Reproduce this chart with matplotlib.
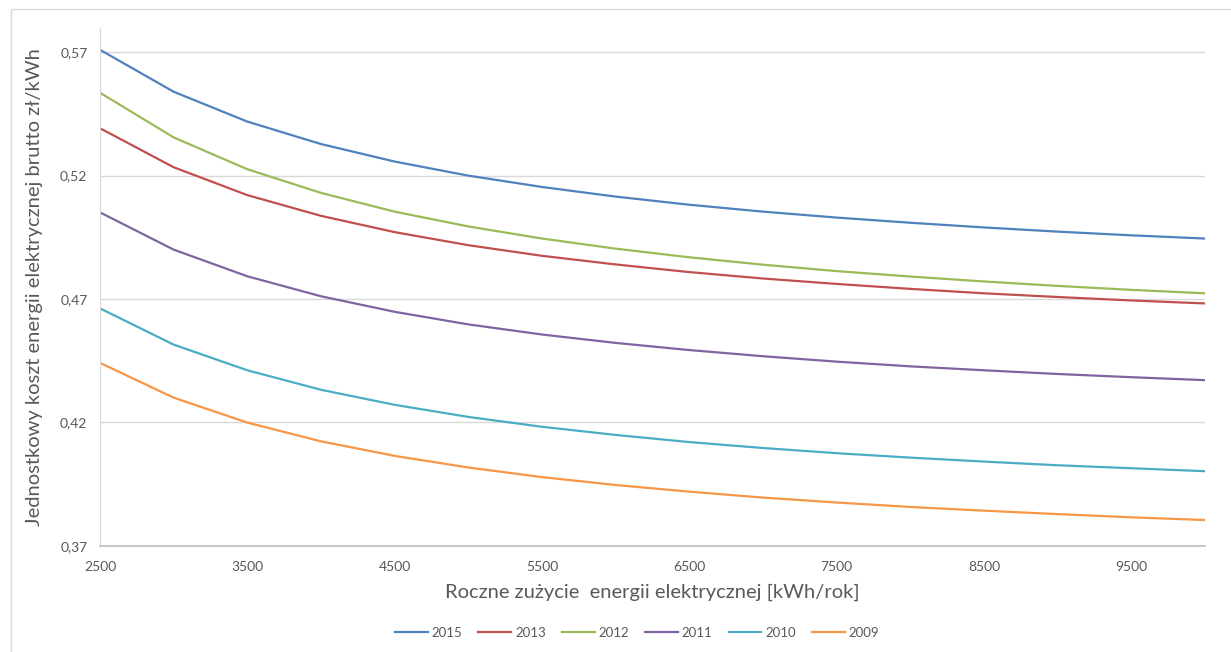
import matplotlib
matplotlib.use("Agg")
import matplotlib.pyplot as plt
from matplotlib.patches import Rectangle
from matplotlib.ticker import FuncFormatter

plt.rcParams['font.family'] = ['Lato', 'DejaVu Sans']

# roczne zużycie [kWh/rok]
zuzycie = [2500, 3000, 3500, 4000, 4500, 5000, 5500, 6000,
           6500, 7000, 7500, 8000, 8500, 9000, 9500, 10000]

# koszt jednostkowy brutto [zł/kWh]
k2015 = [0.5710, 0.5540, 0.5419, 0.5328, 0.5257, 0.5200, 0.5154, 0.5115,
         0.5082, 0.5054, 0.5030, 0.5009, 0.4990, 0.4973, 0.4958, 0.4945]
k2013 = [0.5392, 0.5234, 0.5121, 0.5037, 0.4971, 0.4918, 0.4875, 0.4840,
         0.4809, 0.4783, 0.4761, 0.4741, 0.4723, 0.4708, 0.4694, 0.4682]
k2012 = [0.5536, 0.5355, 0.5226, 0.5130, 0.5054, 0.4994, 0.4945, 0.4904,
         0.4869, 0.4839, 0.4813, 0.4791, 0.4771, 0.4753, 0.4737, 0.4723]
k2011 = [0.5051, 0.4900, 0.4792, 0.4711, 0.4648, 0.4597, 0.4556, 0.4522,
         0.4493, 0.4468, 0.4446, 0.4427, 0.4411, 0.4396, 0.4383, 0.4371]
k2010 = [0.4662, 0.4515, 0.4411, 0.4332, 0.4271, 0.4222, 0.4182, 0.4149,
         0.4120, 0.4096, 0.4075, 0.4057, 0.4041, 0.4026, 0.4014, 0.4002]
k2009 = [0.4441, 0.4300, 0.4199, 0.4123, 0.4064, 0.4017, 0.3978, 0.3946,
         0.3919, 0.3895, 0.3875, 0.3857, 0.3842, 0.3828, 0.3815, 0.3804]

lata = ['2015', '2013', '2012', '2011', '2010', '2009']
serie = [k2015, k2013, k2012, k2011, k2010, k2009]
kolory = ['#4F81BD', '#C0504D', '#9BBB59', '#8064A2', '#4BACC6', '#F79646']

x_ticks = [2500, 3500, 4500, 5500, 6500, 7500, 8500, 9500]
y_ticks = [0.37, 0.42, 0.47, 0.52, 0.57]

fig = plt.figure(figsize=(12.31, 6.52), dpi=100)
ax = fig.add_axes([100 / 1231, 1 - 545.7 / 652, 1105 / 1231, (545.7 - 27.6) / 652])

# ramka całego wykresu
fig.patches.append(Rectangle((11 / 1231, -0.1), 1.2, 1 - 9 / 652 + 0.1,
                             transform=fig.transFigure, fill=False,
                             edgecolor='#D9D9D9', linewidth=1))

for rok, y, c in zip(lata, serie, kolory):
    ax.plot(zuzycie, y, color=c, linewidth=1.6, label=rok)

ax.set_xlim(2500, 10000)
ax.set_ylim(0.37, 0.58)
ax.set_xticks(x_ticks)
ax.set_yticks(y_ticks)
ax.yaxis.set_major_formatter(FuncFormatter(lambda v, p: f"{v:.2f}".replace('.', ',')))
ax.grid(axis='y', color='#D9D9D9', linewidth=1)
ax.set_axisbelow(True)

for s in ['top', 'right']:
    ax.spines[s].set_visible(False)
ax.spines['left'].set_color('#D9D9D9')
ax.spines['bottom'].set_color('#BFBFBF')
ax.spines['bottom'].set_linewidth(1.2)
ax.tick_params(length=0, labelsize=10, labelcolor='#595959')
ax.tick_params(axis='x', pad=11)
ax.tick_params(axis='y', pad=9)

ax.set_xlabel('Roczne zużycie  energii elektrycznej [kWh/rok]',
              fontsize=14.5, color='#595959', labelpad=8)
ax.set_ylabel('Jednostkowy koszt energii elektrycznej brutto zł/kWh',
              fontsize=14.5, color='#595959', labelpad=12)

ax.legend(loc='center', bbox_to_anchor=(637 / 1231, 1 - 633 / 652),
          bbox_transform=fig.transFigure, ncol=6, frameon=False,
          fontsize=9.5, labelcolor='#595959', handlelength=2.5,
          handletextpad=0.3, columnspacing=1.2)

fig.savefig('out.png', dpi=100)
